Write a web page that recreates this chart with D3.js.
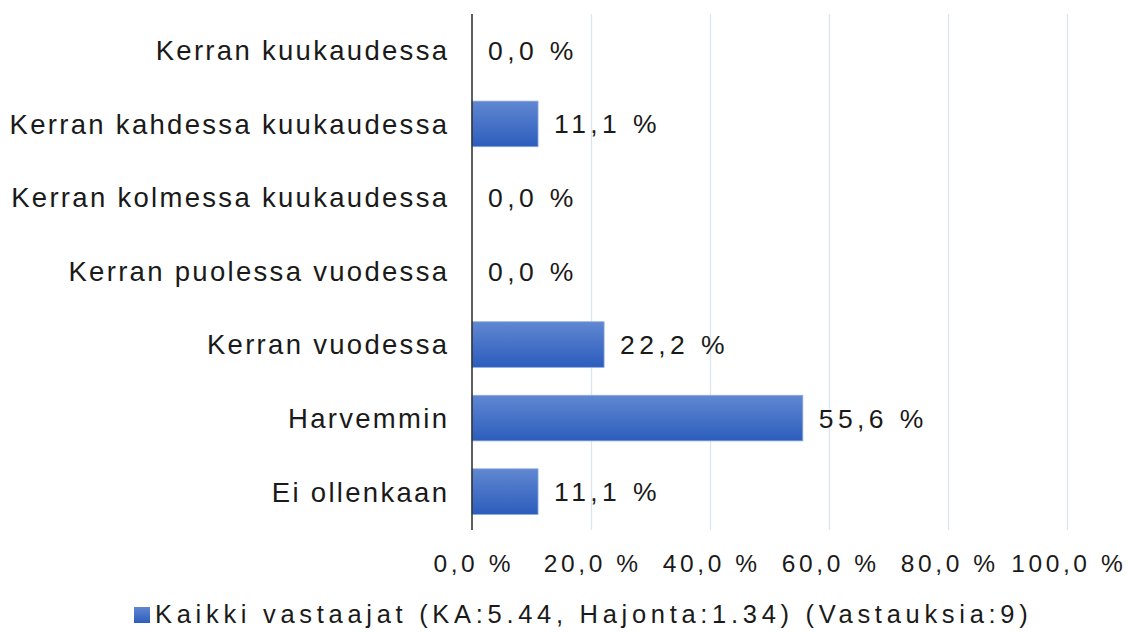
<!DOCTYPE html>
<html><head><meta charset="utf-8">
<script src="https://cdn.jsdelivr.net/npm/d3@7"></script>
<style>
body{margin:0;background:#fff;}
svg text{font-family:"Liberation Sans",Arial,sans-serif;fill:#1a1a1a;}
</style></head>
<body><svg id="c" width="1128" height="632"></svg>
<script>
const categories = ["Kerran kuukaudessa","Kerran kahdessa kuukaudessa","Kerran kolmessa kuukaudessa","Kerran puolessa vuodessa","Kerran vuodessa","Harvemmin","Ei ollenkaan"];
const values = [0.0, 11.1, 0.0, 0.0, 22.2, 55.6, 11.1];
const ticks = [0, 20, 40, 60, 80, 100];
const seriesName = "Kaikki vastaajat (KA:5.44, Hajonta:1.34) (Vastauksia:9)";

const svg = d3.select("#c");
const fmt = v => d3.format(".1f")(v).replace(".", ",") + " %";

const x = d3.scaleLinear().domain([0,100]).range([472,1067]);
const y = d3.scaleBand().domain(categories).range([13.6,528.4]).paddingInner(0.38).paddingOuter(0.19);

const defs = svg.append("defs");
const g = defs.append("linearGradient").attr("id","bg").attr("x1",0).attr("y1",0).attr("x2",0).attr("y2",1);
g.append("stop").attr("offset","0%").attr("stop-color","#6087d1");
g.append("stop").attr("offset","100%").attr("stop-color","#2c5dbd");

// gridlines
svg.append("g").selectAll("line").data(ticks.filter(t=>t>0)).join("line")
  .attr("x1",d=>x(d)+0.5).attr("x2",d=>x(d)+0.5).attr("y1",14).attr("y2",530)
  .attr("stroke","#dde5f0").attr("stroke-width",1.3);

// bars
svg.append("g").selectAll("rect").data(values).join("rect")
  .attr("x",x(0)).attr("y",(d,i)=>y(categories[i]))
  .attr("width",d=>x(d)-x(0)).attr("height",y.bandwidth())
  .attr("fill","url(#bg)").attr("stroke","#8fa9dd").attr("stroke-width",0.8)
  .style("display",d=>d>0?null:"none");

// axis line
svg.append("line").attr("x1",x(0)).attr("x2",x(0)).attr("y1",14).attr("y2",530)
  .attr("stroke","#2a2a2a").attr("stroke-width",1.5);

// category labels
const cs = 2.3;
svg.append("g").selectAll("text").data(categories).join("text")
  .attr("x",447+cs).attr("y",d=>y(d)+y.bandwidth()/2).attr("dy","0.36em")
  .attr("text-anchor","end").style("font-size","27.5px").style("letter-spacing",cs+"px")
  .text(d=>d);

// value labels
svg.append("g").selectAll("text").data(values).join("text")
  .attr("x",d=>x(d)+16).attr("y",(d,i)=>y(categories[i])+y.bandwidth()/2).attr("dy","0.36em")
  .style("font-size","26.5px").style("letter-spacing","4.4px")
  .text(d=>fmt(d));

// x tick labels
const ts = 3.6;
svg.append("g").selectAll("text").data(ticks).join("text")
  .attr("x",d=>x(d)+ts/2).attr("y",563).attr("dy","0.36em").attr("text-anchor","middle")
  .style("font-size","24.5px").style("letter-spacing",ts+"px")
  .text(d=>fmt(d));

// legend
const lg = svg.append("g");
lg.append("rect").attr("x",134).attr("y",607).attr("width",16).attr("height",16).attr("fill","url(#bg)");
lg.append("text").attr("x",155).attr("y",614).attr("dy","0.36em")
  .style("font-size","25.5px").style("letter-spacing","4.7px").text(seriesName);
</script></body></html>
